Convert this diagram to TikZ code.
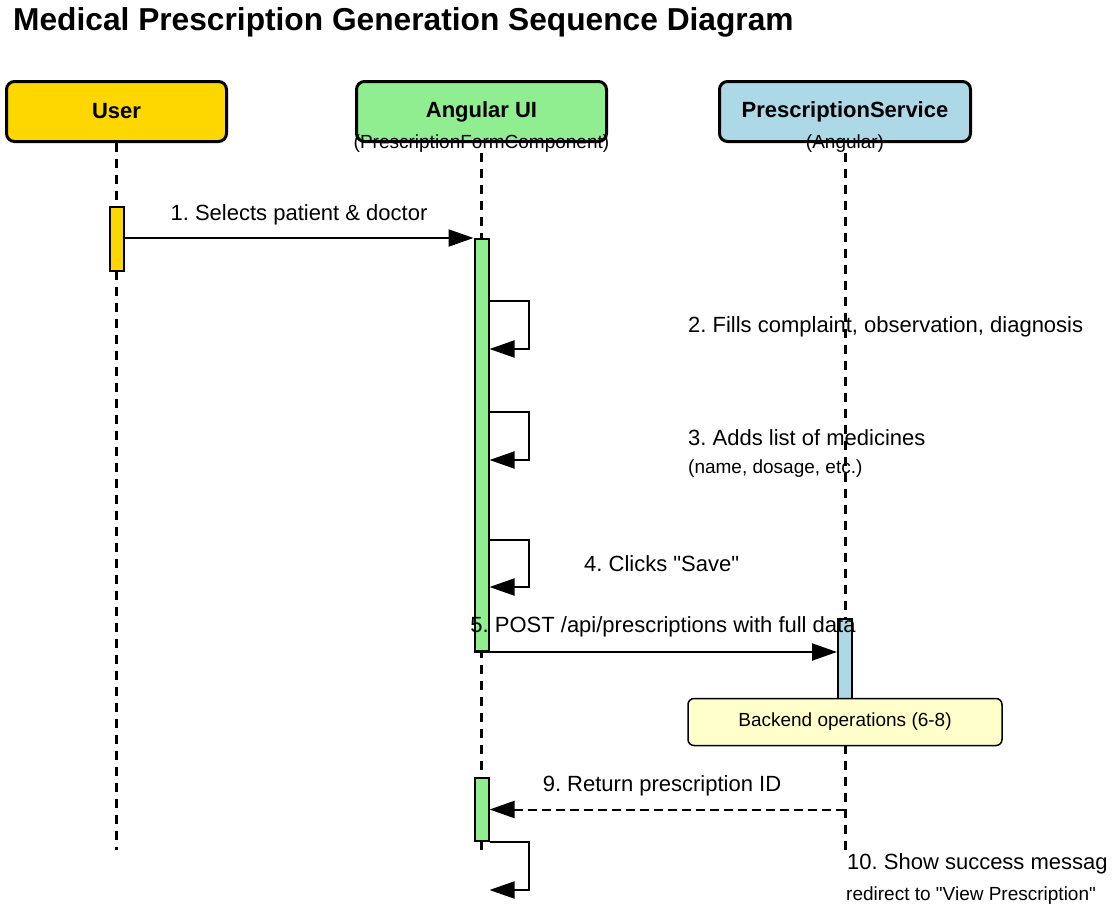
\documentclass[tikz,border=0pt]{standalone}
\usepackage{fontspec}
\setmainfont{Liberation Sans}
\usetikzlibrary{arrows.meta,positioning}
\definecolor{usergold}{HTML}{FFD700}
\definecolor{uigreen}{HTML}{90EE90}
\definecolor{svcblue}{HTML}{ADD8E6}
\definecolor{noteyellow}{HTML}{FFFFCC}
\newcommand{\fs}[1]{\fontsize{#1}{#1}\selectfont}
\frenchspacing

\tikzset{
  actor/.style={draw=black,line width=3pt,rounded corners=8pt,minimum height=60pt,
                font=\bfseries\fs{22}},
  life/.style={line width=3pt,dash pattern=on 9pt off 7pt},
  act/.style={draw=black,line width=2pt,minimum width=14pt,anchor=north,inner sep=0pt},
  msg/.style={line width=2pt,-{Triangle[length=25pt,width=17pt]}},
  ret/.style={msg,dash pattern=on 9pt off 5pt},
  lbl/.style={font=\fs{22},inner sep=0pt},
  small/.style={font=\fs{19},inner sep=0pt},
}

\begin{document}
\begin{tikzpicture}[x=1pt,y=-1pt]
  \useasboundingbox (0,0) rectangle (1119,910);
  \node[anchor=west,font=\bfseries\fs{31.7},inner sep=0pt] (title) at (13,22)
    {Medical Prescription Generation Sequence Diagram};

  % participants
  \node[actor,fill=usergold,minimum width=220pt] (user) at (116.5,111.5) {User};
  \node[actor,fill=uigreen,minimum width=250pt] (ui) at (481.5,111.5) {Angular UI};
  \node[actor,fill=svcblue,minimum width=251pt] (svc) at (845,111.5) {PrescriptionService};
  \node[font=\fs{19},inner sep=0pt] (uisub) at (481.5,144) {(PrescriptionFormComponent)};
  \node[font=\fs{19},inner sep=0pt] (svcsub) at (845,144) {(Angular)};

  % lifelines
  \draw[life] (user.south) -- (user.south |- 0,850);
  \draw[life] (uisub.south) -- (uisub.south |- 0,850);
  \draw[life] (svcsub.south) -- (svcsub.south |- 0,850);

  % activations
  \node[act,fill=usergold,minimum height=64pt] (actU) at (117,206) {};
  \node[act,fill=uigreen,minimum height=412pt] (actA) at (481.5,238) {};
  \node[act,fill=svcblue,minimum height=82pt] (actS) at (845,618) {};
  \node[act,fill=uigreen,minimum height=63pt] (actB) at (481.5,777) {};

  % 1
  \draw[msg] (actU.east |- actA.north) -- (actA.north west);
  \node[lbl] (m1) at (299,215) {1. Selects patient \& doctor};

  % self calls on the form
  \draw[msg] ([yshift=-63pt]actA.north east) -- ++(39,0) -- ++(0,48) -- ++(-39,0);
  \node[lbl,anchor=west] (m2) at (688,327) {2. Fills complaint, observation, diagnosis};
  \draw[msg] ([yshift=-174pt]actA.north east) -- ++(39,0) -- ++(0,48) -- ++(-39,0);
  \node[lbl,anchor=west] (m3) at (688,438) {3. Adds list of medicines};
  \node[small,anchor=west] (m3b) at (688,469) {(name, dosage, etc.)};
  \draw[msg] ([yshift=-302pt]actA.north east) -- ++(39,0) -- ++(0,47) -- ++(-39,0);
  \node[lbl,anchor=west] (m4) at (584,564) {4. Clicks \textquotedbl Save\textquotedbl};

  % 5
  \draw[msg] (actA.south west) -- (actS.west |- actA.south);
  \node[lbl] (m5) at (663,627) {5. POST /api/prescriptions with full data};

  \node[draw=black,line width=1.5pt,fill=noteyellow,rounded corners=6pt,
        minimum width=314pt,minimum height=47pt,font=\fs{19}] (note) at (845,722)
    {Backend operations (6-8)};

  % 9
  \draw[ret] (svc |- actB.east) -- (actB.east);
  \node[lbl] (m9) at (662,786) {9. Return prescription ID};

  % 10
  \draw[msg] (actB.south east) -- ++(39,0) -- ++(0,48) -- ++(-39,0);
  \node[lbl,anchor=west] (m10) at (847,864) {10. Show success messag};
  \node[small,anchor=west] (m10b) at (846,896) {redirect to \textquotedbl View Prescription\textquotedbl};
\end{tikzpicture}
\end{document}
